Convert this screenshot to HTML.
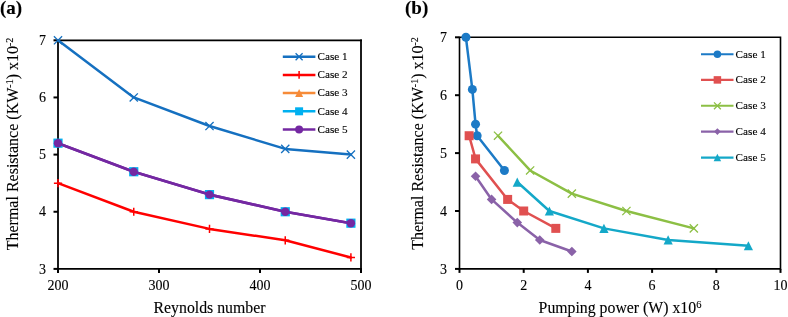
<!DOCTYPE html><html><head><meta charset="utf-8"><style>html,body{margin:0;padding:0;background:#fff;width:788px;height:317px;overflow:hidden}svg{display:block;will-change:transform}text{font-family:"Liberation Serif",serif;fill:#000;stroke:#000;stroke-width:0.12px}</style></head><body>
<svg width="788" height="317" viewBox="0 0 788 317">
<text x="0" y="14.3" font-size="19" font-weight="bold">(a)</text>
<path d="M58 39.4V269.79999999999995M361 39.4V269.79999999999995" fill="none" stroke="#1c1c1c" stroke-width="2"/>
<path d="M57 40.3H362M57 268.9H362" fill="none" stroke="#000" stroke-width="1.8"/>
<path d="M53.50 268.90H58.00" stroke="#000" stroke-width="2"/>
<text x="46" y="273.50" font-size="14" text-anchor="end">3</text>
<path d="M53.50 211.75H58.00" stroke="#000" stroke-width="2"/>
<text x="46" y="216.35" font-size="14" text-anchor="end">4</text>
<path d="M53.50 154.60H58.00" stroke="#000" stroke-width="2"/>
<text x="46" y="159.20" font-size="14" text-anchor="end">5</text>
<path d="M53.50 97.45H58.00" stroke="#000" stroke-width="2"/>
<text x="46" y="102.05" font-size="14" text-anchor="end">6</text>
<path d="M53.50 40.30H58.00" stroke="#000" stroke-width="2"/>
<text x="46" y="44.90" font-size="14" text-anchor="end">7</text>
<path d="M58.00 268.90V272.90" stroke="#000" stroke-width="2"/>
<text x="58.00" y="290" font-size="14" text-anchor="middle">200</text>
<path d="M159.00 268.90V272.90" stroke="#000" stroke-width="2"/>
<text x="159.00" y="290" font-size="14" text-anchor="middle">300</text>
<path d="M260.00 268.90V272.90" stroke="#000" stroke-width="2"/>
<text x="260.00" y="290" font-size="14" text-anchor="middle">400</text>
<path d="M361.00 268.90V272.90" stroke="#000" stroke-width="2"/>
<text x="361.00" y="290" font-size="14" text-anchor="middle">500</text>
<text x="209.5" y="312.5" font-size="15.8" text-anchor="middle">Reynolds number</text>
<text transform="translate(18.2,144) rotate(-90)" font-size="16" text-anchor="middle">Thermal Resistance (KW<tspan font-size="10" dy="-5">-1</tspan><tspan dy="5">) x10</tspan><tspan font-size="10" dy="-5">-2</tspan></text>
<polyline points="58.00,143.17 133.75,171.74 209.50,194.61 285.25,211.75 350.90,223.18" fill="none" stroke="#7428A2" stroke-width="2.6" stroke-linejoin="round" stroke-linecap="round"/>
<path d="M58.00 139.67L61.50 146.67L54.50 146.67Z" fill="#F68B38"/>
<path d="M133.75 168.24L137.25 175.24L130.25 175.24Z" fill="#F68B38"/>
<path d="M209.50 191.11L213.00 198.11L206.00 198.11Z" fill="#F68B38"/>
<path d="M285.25 208.25L288.75 215.25L281.75 215.25Z" fill="#F68B38"/>
<path d="M350.90 219.68L354.40 226.68L347.40 226.68Z" fill="#F68B38"/>
<rect x="53.40" y="138.57" width="9.2" height="9.2" fill="#00B0F0"/>
<rect x="129.15" y="167.14" width="9.2" height="9.2" fill="#00B0F0"/>
<rect x="204.90" y="190.01" width="9.2" height="9.2" fill="#00B0F0"/>
<rect x="280.65" y="207.15" width="9.2" height="9.2" fill="#00B0F0"/>
<rect x="346.30" y="218.58" width="9.2" height="9.2" fill="#00B0F0"/>
<polyline points="58.00,143.17 133.75,171.74 209.50,194.61 285.25,211.75 350.90,223.18" fill="none" stroke="#7428A2" stroke-width="2.6" stroke-linejoin="round" stroke-linecap="round"/>
<circle cx="58.00" cy="143.17" r="4.2" fill="#7428A2"/>
<circle cx="133.75" cy="171.74" r="4.2" fill="#7428A2"/>
<circle cx="209.50" cy="194.61" r="4.2" fill="#7428A2"/>
<circle cx="285.25" cy="211.75" r="4.2" fill="#7428A2"/>
<circle cx="350.90" cy="223.18" r="4.2" fill="#7428A2"/>
<polyline points="58.00,183.17 133.75,211.75 209.50,228.89 285.25,240.32 350.90,257.47" fill="none" stroke="#FF0000" stroke-width="2.5" stroke-linejoin="round" stroke-linecap="round"/>
<path d="M53.90 183.17L62.10 183.17M58.00 179.07L58.00 187.27" stroke="#FF0000" stroke-width="1.5" fill="none"/>
<path d="M129.65 211.75L137.85 211.75M133.75 207.65L133.75 215.85" stroke="#FF0000" stroke-width="1.5" fill="none"/>
<path d="M205.40 228.89L213.60 228.89M209.50 224.79L209.50 232.99" stroke="#FF0000" stroke-width="1.5" fill="none"/>
<path d="M281.15 240.32L289.35 240.32M285.25 236.22L285.25 244.42" stroke="#FF0000" stroke-width="1.5" fill="none"/>
<path d="M346.80 257.47L355.00 257.47M350.90 253.37L350.90 261.57" stroke="#FF0000" stroke-width="1.5" fill="none"/>
<polyline points="58.00,40.30 133.75,97.45 209.50,126.03 285.25,148.89 350.90,154.60" fill="none" stroke="#1570C0" stroke-width="2.5" stroke-linejoin="round" stroke-linecap="round"/>
<path d="M53.90 36.20L62.10 44.40M53.90 44.40L62.10 36.20" stroke="#1570C0" stroke-width="1.3" fill="none"/>
<path d="M129.65 93.35L137.85 101.55M129.65 101.55L137.85 93.35" stroke="#1570C0" stroke-width="1.3" fill="none"/>
<path d="M205.40 121.93L213.60 130.12M205.40 130.12L213.60 121.93" stroke="#1570C0" stroke-width="1.3" fill="none"/>
<path d="M281.15 144.79L289.35 152.99M281.15 152.99L289.35 144.79" stroke="#1570C0" stroke-width="1.3" fill="none"/>
<path d="M346.80 150.50L355.00 158.70M346.80 158.70L355.00 150.50" stroke="#1570C0" stroke-width="1.3" fill="none"/>
<path d="M282.8 56.70H315.4" stroke="#1570C0" stroke-width="2.5"/>
<path d="M295.60 53.20L302.60 60.20M295.60 60.20L302.60 53.20" stroke="#1570C0" stroke-width="1.3" fill="none"/>
<text x="317.5" y="60.00" font-size="11.2">Case 1</text>
<path d="M282.8 74.90H315.4" stroke="#FF0000" stroke-width="2.5"/>
<path d="M295.30 74.90L302.90 74.90M299.10 71.10L299.10 78.70" stroke="#FF0000" stroke-width="1.5" fill="none"/>
<text x="317.5" y="78.20" font-size="11.2">Case 2</text>
<path d="M282.8 93.10H315.4" stroke="#F68B38" stroke-width="2.5"/>
<path d="M299.10 89.10L303.10 97.10L295.10 97.10Z" fill="#F68B38"/>
<text x="317.5" y="96.40" font-size="11.2">Case 3</text>
<path d="M282.8 111.30H315.4" stroke="#00B0F0" stroke-width="2.5"/>
<rect x="295.10" y="107.30" width="8" height="8" fill="#00B0F0"/>
<text x="317.5" y="114.60" font-size="11.2">Case 4</text>
<path d="M282.8 129.50H315.4" stroke="#7428A2" stroke-width="2.5"/>
<circle cx="299.10" cy="129.50" r="4.0" fill="#7428A2"/>
<text x="317.5" y="132.80" font-size="11.2">Case 5</text>
<text x="405" y="14.3" font-size="19" font-weight="bold">(b)</text>
<path d="M459.5 37.3H780.5V268.9H459.5Z" fill="none" stroke="#000" stroke-width="1.6"/>
<path d="M455.00 268.90H459.50" stroke="#000" stroke-width="2"/>
<text x="447" y="273.50" font-size="14" text-anchor="end">3</text>
<path d="M455.00 211.00H459.50" stroke="#000" stroke-width="2"/>
<text x="447" y="215.60" font-size="14" text-anchor="end">4</text>
<path d="M455.00 153.10H459.50" stroke="#000" stroke-width="2"/>
<text x="447" y="157.70" font-size="14" text-anchor="end">5</text>
<path d="M455.00 95.20H459.50" stroke="#000" stroke-width="2"/>
<text x="447" y="99.80" font-size="14" text-anchor="end">6</text>
<path d="M455.00 37.30H459.50" stroke="#000" stroke-width="2"/>
<text x="447" y="41.90" font-size="14" text-anchor="end">7</text>
<path d="M459.50 268.90V272.90" stroke="#000" stroke-width="2"/>
<text x="459.50" y="290" font-size="14" text-anchor="middle">0</text>
<path d="M523.70 268.90V272.90" stroke="#000" stroke-width="2"/>
<text x="523.70" y="290" font-size="14" text-anchor="middle">2</text>
<path d="M587.90 268.90V272.90" stroke="#000" stroke-width="2"/>
<text x="587.90" y="290" font-size="14" text-anchor="middle">4</text>
<path d="M652.10 268.90V272.90" stroke="#000" stroke-width="2"/>
<text x="652.10" y="290" font-size="14" text-anchor="middle">6</text>
<path d="M716.30 268.90V272.90" stroke="#000" stroke-width="2"/>
<text x="716.30" y="290" font-size="14" text-anchor="middle">8</text>
<path d="M780.50 268.90V272.90" stroke="#000" stroke-width="2"/>
<text x="780.50" y="290" font-size="14" text-anchor="middle">10</text>
<text x="620" y="312.8" font-size="15.8" text-anchor="middle">Pumping power (W) x10<tspan font-size="10.5" dy="-5">6</tspan></text>
<text transform="translate(423,143.5) rotate(-90)" font-size="16" text-anchor="middle">Thermal Resistance (KW<tspan font-size="10" dy="-5">-1</tspan><tspan dy="5">) x10</tspan><tspan font-size="10" dy="-5">-2</tspan></text>
<polyline points="465.92,37.30 472.34,89.41 475.55,124.15 477.15,135.73 504.44,170.47" fill="none" stroke="#1C7AC6" stroke-width="2.5" stroke-linejoin="round" stroke-linecap="round"/>
<circle cx="465.92" cy="37.30" r="4.5" fill="#1C7AC6"/>
<circle cx="472.34" cy="89.41" r="4.5" fill="#1C7AC6"/>
<circle cx="475.55" cy="124.15" r="4.5" fill="#1C7AC6"/>
<circle cx="477.15" cy="135.73" r="4.5" fill="#1C7AC6"/>
<circle cx="504.44" cy="170.47" r="4.5" fill="#1C7AC6"/>
<polyline points="469.13,135.73 475.55,158.89 507.65,199.42 523.70,211.00 555.80,228.37" fill="none" stroke="#E05050" stroke-width="2.5" stroke-linejoin="round" stroke-linecap="round"/>
<rect x="464.63" y="131.23" width="9" height="9" fill="#E05050"/>
<rect x="471.05" y="154.39" width="9" height="9" fill="#E05050"/>
<rect x="503.15" y="194.92" width="9" height="9" fill="#E05050"/>
<rect x="519.20" y="206.50" width="9" height="9" fill="#E05050"/>
<rect x="551.30" y="223.87" width="9" height="9" fill="#E05050"/>
<polyline points="498.02,135.73 530.12,170.47 571.85,193.63 626.42,211.00 693.83,228.37" fill="none" stroke="#8CBF44" stroke-width="2.5" stroke-linejoin="round" stroke-linecap="round"/>
<path d="M493.92 131.63L502.12 139.83M493.92 139.83L502.12 131.63" stroke="#8CBF44" stroke-width="1.3" fill="none"/>
<path d="M526.02 166.37L534.22 174.57M526.02 174.57L534.22 166.37" stroke="#8CBF44" stroke-width="1.3" fill="none"/>
<path d="M567.75 189.53L575.95 197.73M567.75 197.73L575.95 189.53" stroke="#8CBF44" stroke-width="1.3" fill="none"/>
<path d="M622.32 206.90L630.52 215.10M622.32 215.10L630.52 206.90" stroke="#8CBF44" stroke-width="1.3" fill="none"/>
<path d="M689.73 224.27L697.93 232.47M689.73 232.47L697.93 224.27" stroke="#8CBF44" stroke-width="1.3" fill="none"/>
<polyline points="475.55,176.26 491.60,199.42 517.28,222.58 539.75,239.95 571.85,251.53" fill="none" stroke="#8A62A8" stroke-width="2.5" stroke-linejoin="round" stroke-linecap="round"/>
<path d="M475.55 171.46L480.35 176.26L475.55 181.06L470.75 176.26Z" fill="#8A62A8"/>
<path d="M491.60 194.62L496.40 199.42L491.60 204.22L486.80 199.42Z" fill="#8A62A8"/>
<path d="M517.28 217.78L522.08 222.58L517.28 227.38L512.48 222.58Z" fill="#8A62A8"/>
<path d="M539.75 235.15L544.55 239.95L539.75 244.75L534.95 239.95Z" fill="#8A62A8"/>
<path d="M571.85 246.73L576.65 251.53L571.85 256.33L567.05 251.53Z" fill="#8A62A8"/>
<polyline points="517.28,182.05 549.38,211.00 603.95,228.37 668.15,239.95 748.40,245.74" fill="none" stroke="#14A8C8" stroke-width="2.5" stroke-linejoin="round" stroke-linecap="round"/>
<path d="M517.28 177.45L521.88 186.65L512.68 186.65Z" fill="#14A8C8"/>
<path d="M549.38 206.40L553.98 215.60L544.78 215.60Z" fill="#14A8C8"/>
<path d="M603.95 223.77L608.55 232.97L599.35 232.97Z" fill="#14A8C8"/>
<path d="M668.15 235.35L672.75 244.55L663.55 244.55Z" fill="#14A8C8"/>
<path d="M748.40 241.14L753.00 250.34L743.80 250.34Z" fill="#14A8C8"/>
<path d="M701 54.30H733.5" stroke="#1C7AC6" stroke-width="2.1"/>
<circle cx="717.40" cy="54.30" r="3.75" fill="#1C7AC6"/>
<text x="735.6" y="57.80" font-size="11.2">Case 1</text>
<path d="M701 79.90H733.5" stroke="#E05050" stroke-width="2.1"/>
<rect x="713.65" y="76.15" width="7.5" height="7.5" fill="#E05050"/>
<text x="735.6" y="83.40" font-size="11.2">Case 2</text>
<path d="M701 105.80H733.5" stroke="#8CBF44" stroke-width="2.1"/>
<path d="M714.00 102.40L720.80 109.20M714.00 109.20L720.80 102.40" stroke="#8CBF44" stroke-width="1.3" fill="none"/>
<text x="735.6" y="109.30" font-size="11.2">Case 3</text>
<path d="M701 131.60H733.5" stroke="#8A62A8" stroke-width="2.1"/>
<path d="M717.40 128.30L720.70 131.60L717.40 134.90L714.10 131.60Z" fill="#8A62A8"/>
<text x="735.6" y="135.10" font-size="11.2">Case 4</text>
<path d="M701 157.60H733.5" stroke="#14A8C8" stroke-width="2.1"/>
<path d="M717.40 153.85L721.15 161.35L713.65 161.35Z" fill="#14A8C8"/>
<text x="735.6" y="161.10" font-size="11.2">Case 5</text>
</svg></body></html>
